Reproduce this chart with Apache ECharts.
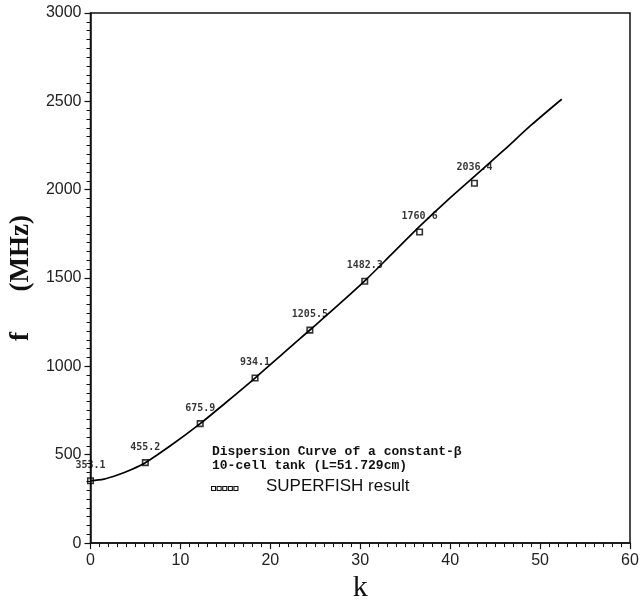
<!DOCTYPE html>
<html>
<head>
<meta charset="utf-8">
<script src="https://cdn.jsdelivr.net/npm/echarts@6/dist/echarts.min.js"></script>
<style>html,body{margin:0;padding:0;background:#fff;}#c{width:643px;height:608px;}</style>
</head>
<body>
<div id="c"></div>
<script>
// SUPERFISH result points
const pointK = [0, 6.1, 12.2, 18.3, 24.4, 30.5, 36.6, 42.7];
const pointF = [353.1, 455.2, 675.9, 934.1, 1205.5, 1482.3, 1760.6, 2036.4];
const pointLabels = ["353.1", "455.2", "675.9", "934.1", "1205.5", "1482.3", "1760.6", "2036.4"];
// dispersion curve
const curveK = [0, 1.5, 3, 4.5, 6.1, 9, 12.2, 15, 18.3, 21.3, 24.4, 27.5, 30.5, 33.5, 36.6, 39.6, 42.7, 46, 49, 52.4];
const curveF = [353, 362, 385, 415, 455, 555, 676, 793, 934, 1068, 1206, 1345, 1484, 1635, 1792, 1935, 2075, 2225, 2365, 2512];
// axis ticks
const xTicks = [0, 10, 20, 30, 40, 50, 60];
const yTicks = [0, 500, 1000, 1500, 2000, 2500, 3000];

const chart = echarts.init(document.getElementById('c'), null, {renderer: 'canvas'});
const grid = {left: 86, right: 13, top: 13, bottom: 62};
chart.setOption({
  animation: false,
  backgroundColor: '#fff',
  grid: Object.assign({show: true, borderColor: '#111', borderWidth: 1.5, backgroundColor: 'transparent'}, grid),
  xAxis: {
    type: 'value', min: xTicks[0], max: xTicks[xTicks.length - 1], interval: 10,
    name: 'k', nameLocation: 'middle', nameGap: 28,
    nameTextStyle: {fontFamily: 'Liberation Serif', fontSize: 30, color: '#111'},
    axisLine: {lineStyle: {color: '#111', width: 1.5}},
    axisTick: {length: 6, lineStyle: {color: '#111', width: 1.2}},
    minorTick: {show: true, splitNumber: 10, length: 4, lineStyle: {color: '#111', width: 1}},
    axisLabel: {fontFamily: 'Liberation Sans', fontSize: 16, color: '#222', margin: 9, formatter: v => String(v)},
    splitLine: {show: false}
  },
  yAxis: {
    type: 'value', min: yTicks[0], max: yTicks[yTicks.length - 1], interval: 500,
    name: 'f      (MHz)', nameLocation: 'middle', nameGap: 50,
    nameTextStyle: {fontFamily: 'Liberation Serif', fontWeight: 'bold', fontSize: 27, color: '#111'},
    axisLine: {lineStyle: {color: '#111', width: 1.5}},
    axisTick: {length: 6, lineStyle: {color: '#111', width: 1.2}},
    minorTick: {show: true, splitNumber: 10, length: 4, lineStyle: {color: '#111', width: 1}},
    axisLabel: {fontFamily: 'Liberation Sans', fontSize: 16, color: '#222', margin: 9, formatter: v => String(v)},
    splitLine: {show: false}
  },
  series: [
    {
      type: 'line', smooth: 0.3, showSymbol: false, silent: true,
      data: curveK.map((k, i) => [k, curveF[i]]),
      lineStyle: {color: '#000', width: 1.7}, z: 2
    },
    {
      type: 'scatter', symbol: 'rect', symbolSize: 5.5,
      data: pointK.map((k, i) => [k, pointF[i]]),
      itemStyle: {color: 'rgba(255,255,255,0)', borderColor: '#000', borderWidth: 1.6},
      label: {
        show: true, position: 'top', distance: 7,
        formatter: p => pointLabels[p.dataIndex],
        fontFamily: 'DejaVu Sans Mono', fontWeight: 'bold', fontSize: 10, color: '#000'
      },
      z: 3
    }
  ],
  graphic: [
    {
      type: 'text', left: 212, top: 445,
      style: {
        text: 'Dispersion Curve of a constant-β\n10-cell tank (L=51.729cm)',
        font: 'bold 13px "Liberation Mono"', fill: '#111', lineHeight: 14
      }
    },
    {
      type: 'group', left: 211, top: 486,
      children: [0, 1, 2, 3, 4].map(i => ({
        type: 'rect', shape: {x: i * 5.6, y: 0, width: 4, height: 4},
        style: {fill: '#fff', stroke: '#111', lineWidth: 1.1}
      }))
    },
    {
      type: 'text', left: 266, top: 478,
      style: {text: 'SUPERFISH result', font: '17px "Liberation Sans"', fill: '#111'}
    }
  ]
});
</script>
</body>
</html>
